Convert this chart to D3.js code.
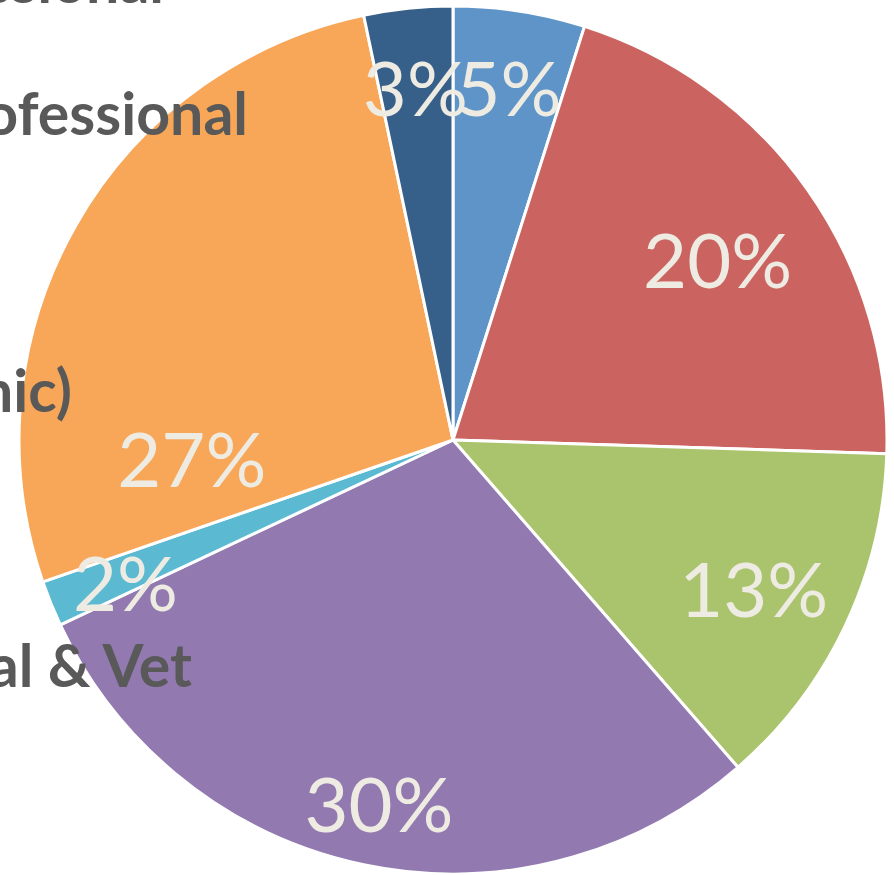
<!DOCTYPE html>
<html>
<head>
<meta charset="utf-8">
<script src="https://cdn.jsdelivr.net/npm/d3@7"></script>
<style>
  html, body { margin: 0; padding: 0; background: #fff; overflow: hidden; }
  svg { display: block; }
</style>
</head>
<body>
<svg id="chart" width="894" height="875"></svg>
<script>
// ---- data ----
const categories = ["Sector A", "Sector B", "Sector C", "Medical & Vet", "Sector E", "Technical (Electronic)", "Sector G"];
const values = [4.9, 20.6, 13.1, 29.4, 1.7, 27.0, 3.3];
const percentLabels = ["5%", "20%", "13%", "30%", "2%", "27%", "3%"];
const colors = ["#5F94C9", "#CB6461", "#AAC46E", "#927AB1", "#5BBAD2", "#F8A657", "#366089"];
const legendLabels = ["Semi-Professional", "Non-Professional", "Technical (Electronic)", "Medical & Vet"];

// ---- layout (not data) ----
const W = 894, H = 875;
const cx = 453, cy = 440, R = 434;
const labelR = 345;
const labelNudge = [[3, -10], [-17, 20], [-11, 2], [-3, 27], [-8, 14], [39, 190], [-2, -8]];
const legendPos = [[164, 3], [248, 135], [72, 412], [192, 687]];

const svg = d3.select("#chart");
const g = svg.append("g").attr("transform", `translate(${cx},${cy})`);

const pie = d3.pie().sort(null).value(d => d);
const arcs = pie(values);
const arc = d3.arc().innerRadius(0).outerRadius(R);
const labelArc = d3.arc().innerRadius(labelR).outerRadius(labelR);

g.selectAll("path.slice")
  .data(arcs)
  .join("path")
  .attr("class", "slice")
  .attr("d", arc)
  .attr("fill", (d, i) => colors[i])
  .attr("stroke", "#ffffff")
  .attr("stroke-width", 3)
  .attr("stroke-linejoin", "round");

// legend / category text (partially off-canvas as in the reference)
svg.selectAll("text.legend")
  .data(legendLabels)
  .join("text")
  .attr("class", "legend")
  .attr("x", (d, i) => legendPos[i][0])
  .attr("y", (d, i) => legendPos[i][1])
  .attr("text-anchor", "end")
  .attr("font-family", "Lato, 'Open Sans', sans-serif")
  .attr("font-weight", "bold")
  .attr("font-size", 59)
  .attr("fill", "#595959")
  .text(d => d);

const fs = 76;
g.selectAll("text.pct")
  .data(arcs)
  .join("text")
  .attr("class", "pct")
  .attr("x", (d, i) => labelArc.centroid(d)[0] + labelNudge[i][0])
  .attr("y", (d, i) => labelArc.centroid(d)[1] + labelNudge[i][1] + fs * 0.36)
  .attr("text-anchor", "middle")
  .attr("font-family", "Lato, 'Open Sans', sans-serif")
  .attr("font-size", fs)
  .attr("fill", "#EEEBE2")
  .text((d, i) => percentLabels[i]);
</script>
</body>
</html>
